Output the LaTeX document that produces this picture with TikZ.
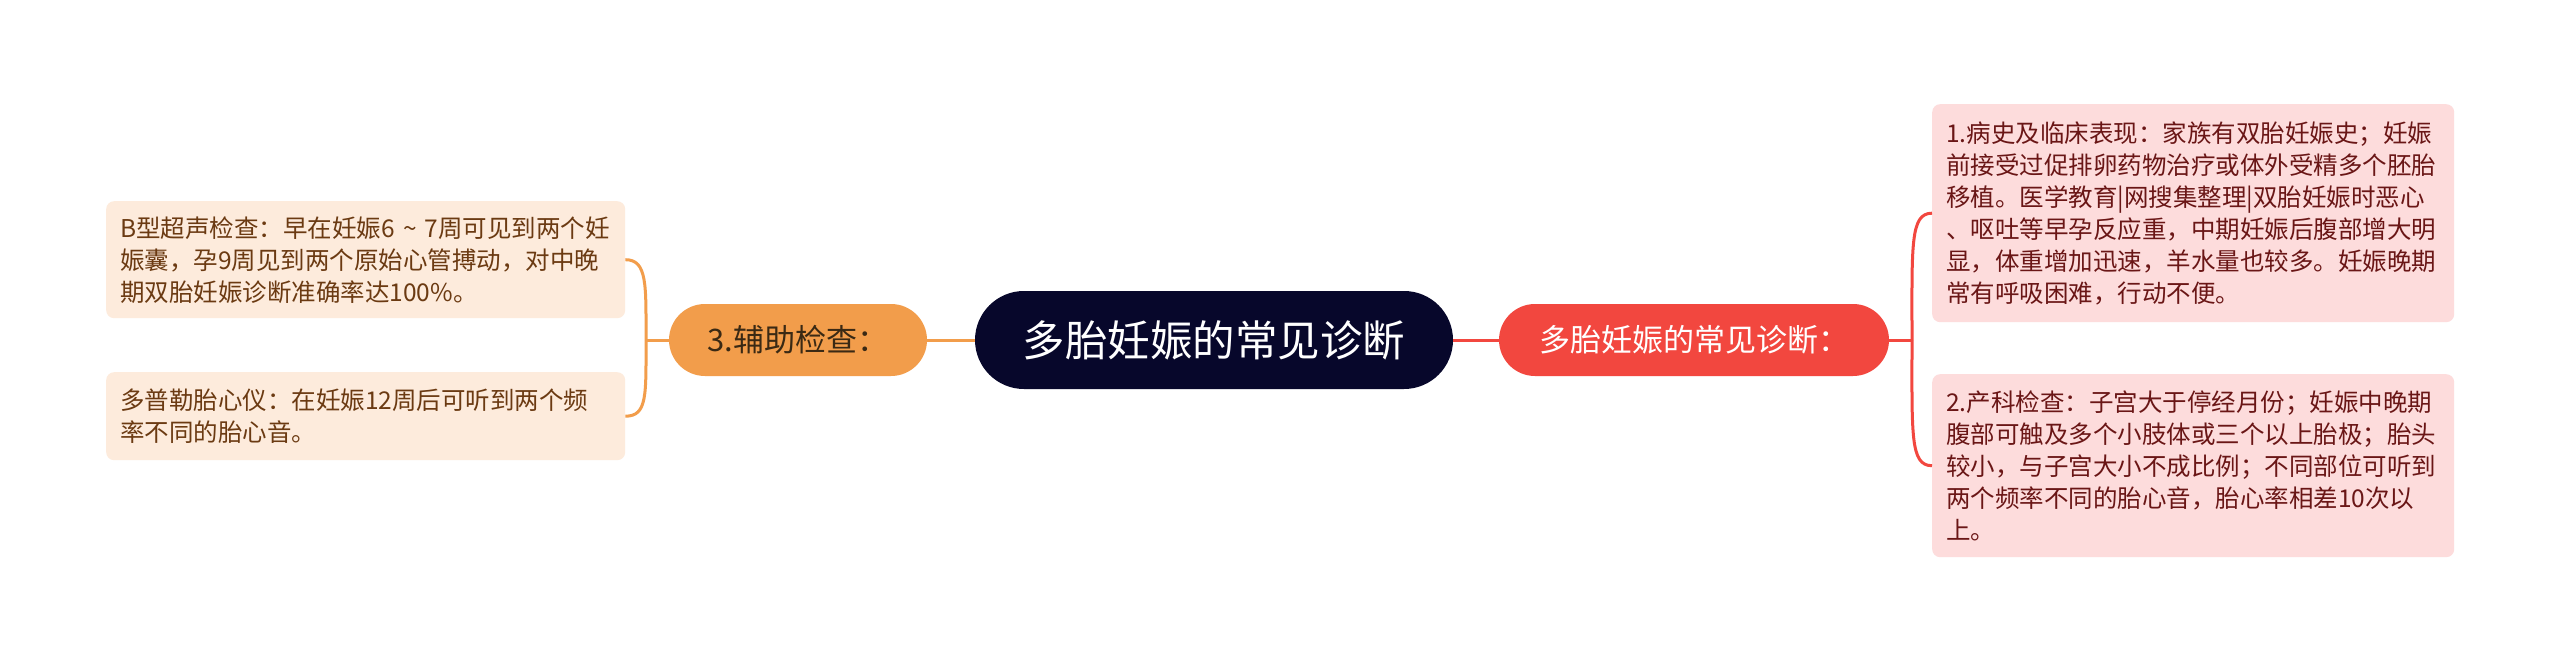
\documentclass[tikz,border=0pt]{standalone}
\usepackage{fontspec}
\setmainfont{Noto Sans CJK SC}
\definecolor{navy}{HTML}{07072B}
\definecolor{orangeM}{HTML}{F29D4B}
\definecolor{redM}{HTML}{F2473F}
\definecolor{leafL}{HTML}{FDEBDC}
\definecolor{leafR}{HTML}{FDDCDC}
\definecolor{txtL}{HTML}{6B3A12}
\definecolor{txtR}{HTML}{6A1616}
\definecolor{txtO}{HTML}{3A2914}
\begin{document}
\begin{tikzpicture}[x=1pt,y=-1pt,
  centerbox/.style={fill=navy,text=white,rounded corners=49pt,minimum width=478pt,minimum height=98pt,inner sep=0pt,font=\fontsize{42.5}{50}\selectfont},
  auxbox/.style={fill=orangeM,text=txtO,rounded corners=36pt,minimum width=258pt,minimum height=72pt,inner sep=0pt,font=\fontsize{31}{38}\selectfont},
  redbox/.style={fill=redM,text=white,rounded corners=36pt,minimum width=390pt,minimum height=72pt,inner sep=0pt,font=\fontsize{31}{38}\selectfont},
  leafbox/.style={rounded corners=8pt,anchor=north west,align=left,inner xsep=14pt,inner ysep=0pt,font=\fontsize{24.5}{32}\selectfont},
  leftleaf/.style={leafbox,fill=leafL,text=txtL,text width=491pt,minimum width=519pt},
  rightleaf/.style={leafbox,fill=leafR,text=txtR,text width=494pt,minimum width=522pt},
  oline/.style={draw=orangeM,line width=3pt},
  rline/.style={draw=redM,line width=3pt}]
\useasboundingbox[fill=white] (0,0) rectangle (2560,663);
\node[centerbox] (c) at (1214,340) {多胎妊娠的常见诊断};
\node[auxbox] (aux) at (798,340) {3.辅助检查：};
\node[redbox] (red) at (1694,340) {多胎妊娠的常见诊断：};
\node[leftleaf,minimum height=117pt] (L1) at (106,201) {B型超声检查：早在妊娠6 \textasciitilde{} 7周可见到两个妊\\娠囊，孕9周见到两个原始心管搏动，对中晚\\期双胎妊娠诊断准确率达100\%。};
\node[leftleaf,minimum height=88pt] (L2) at (106,372) {多普勒胎心仪：在妊娠12周后可听到两个频\\率不同的胎心音。};
\node[rightleaf,minimum height=218pt] (R1) at (1932,104) {1.病史及临床表现：家族有双胎妊娠史；妊娠\\前接受过促排卵药物治疗或体外受精多个胚胎\\移植。医学教育|网搜集整理|双胎妊娠时恶心\\、呕吐等早孕反应重，中期妊娠后腹部增大明\\显，体重增加迅速，羊水量也较多。妊娠晚期\\常有呼吸困难，行动不便。};
\node[rightleaf,minimum height=183pt] (R2) at (1932,374) {2.产科检查：子宫大于停经月份；妊娠中晚期\\腹部可触及多个小肢体或三个以上胎极；胎头\\较小，与子宫大小不成比例；不同部位可听到\\两个频率不同的胎心音，胎心率相差10次以\\上。};
\coordinate (jl) at (646,340);
\coordinate (jr) at (1912,340);
\draw[oline] (c.west) -- (aux.east);
\draw[rline] (c.east) -- (red.west);
\draw[oline] (aux.west) -- (jl);
\draw[oline] (jl) .. controls +(0,-55) and +(22,0) .. (L1.east);
\draw[oline] (jl) .. controls +(0,55) and +(22,0) .. (L2.east);
\draw[rline] (red.east) -- (jr);
\draw[rline] (jr) .. controls +(0,-95) and +(-22,0) .. (R1.west);
\draw[rline] (jr) .. controls +(0,95) and +(-22,0) .. (R2.west);
\end{tikzpicture}
\end{document}
